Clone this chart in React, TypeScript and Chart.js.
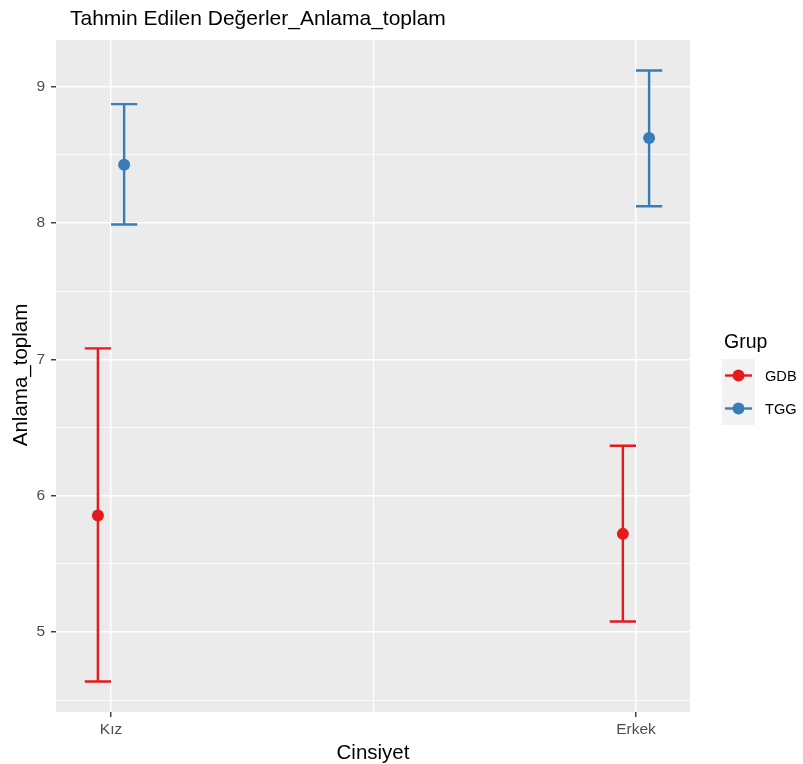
import React, { useEffect, useRef } from "react";
import { Chart, registerables } from "chart.js";

Chart.register(...registerables);

// ---- data ----
const categories = ["Kız", "Erkek"];
const groups = ["GDB", "TGG"];
const gdbMean = [5.854, 5.72];
const gdbLower = [4.638, 5.078];
const gdbUpper = [7.08, 6.366];
const tggMean = [8.427, 8.622];
const tggLower = [7.988, 8.122];
const tggUpper = [8.871, 9.117];
const yTicks = [4.5, 5, 5.5, 6, 6.5, 7, 7.5, 8, 8.5, 9];
const xTicks = [1, 1.5, 2];

const titleText = "Tahmin Edilen Değerler_Anlama_toplam";
const xTitle = "Cinsiyet";
const yTitle = "Anlama_toplam";
const legendTitle = "Grup";

const RED = "#E41A1C";
const BLUE = "#377EB8";
const FONT = '"Liberation Sans", Arial, Helvetica, sans-serif';
const DODGE = 0.05;
const ERR_W = 0.05;
const LW = 2.4;
const PR = 6;

const series = [
  { name: groups[0], color: RED, mean: gdbMean, lower: gdbLower, upper: gdbUpper, off: -DODGE / 2 },
  { name: groups[1], color: BLUE, mean: tggMean, lower: tggLower, upper: tggUpper, off: DODGE / 2 },
];

const bgPlugin = {
  id: "bgPanel",
  beforeDraw(chart: any) {
    const { ctx, chartArea: a } = chart;
    ctx.save();
    ctx.fillStyle = "#FFFFFF";
    ctx.fillRect(0, 0, chart.width, chart.height);
    ctx.fillStyle = "#EBEBEB";
    ctx.fillRect(a.left, a.top, a.right - a.left, a.bottom - a.top);
    ctx.restore();
  },
};

const errPlugin = {
  id: "errBars",
  beforeDatasetsDraw(chart: any) {
    const { ctx } = chart;
    const xs = chart.scales.x;
    const ys = chart.scales.y;
    ctx.save();
    ctx.lineWidth = LW;
    ctx.lineCap = "butt";
    series.forEach((s) => {
      ctx.strokeStyle = s.color;
      s.mean.forEach((_, i) => {
        const xv = i + 1 + s.off;
        const px = xs.getPixelForValue(xv);
        const l = xs.getPixelForValue(xv - ERR_W / 2);
        const r = xs.getPixelForValue(xv + ERR_W / 2);
        const yl = ys.getPixelForValue(s.lower[i]);
        const yu = ys.getPixelForValue(s.upper[i]);
        ctx.beginPath();
        ctx.moveTo(px, yl);
        ctx.lineTo(px, yu);
        ctx.moveTo(l, yl);
        ctx.lineTo(r, yl);
        ctx.moveTo(l, yu);
        ctx.lineTo(r, yu);
        ctx.stroke();
      });
    });
    ctx.restore();
  },
};

const textPlugin = {
  id: "texts",
  afterDraw(chart: any) {
    const { ctx, chartArea: a } = chart;
    ctx.save();
    ctx.fillStyle = "#000000";
    // title
    ctx.font = `21px ${FONT}`;
    ctx.textAlign = "left";
    ctx.textBaseline = "alphabetic";
    ctx.fillText(titleText, a.left + 14, 25);
    // x title
    ctx.font = `20.5px ${FONT}`;
    ctx.textAlign = "center";
    ctx.fillText(xTitle, (a.left + a.right) / 2, 759);
    // y title
    ctx.save();
    ctx.translate(27, (a.top + a.bottom) / 2 - 1);
    ctx.rotate(-Math.PI / 2);
    ctx.fillText(yTitle, 0, 0);
    ctx.restore();
    // legend
    const lx = a.right + 32;
    ctx.textAlign = "left";
    ctx.font = `19.5px ${FONT}`;
    ctx.fillText(legendTitle, lx + 2, 348);
    const keyTop = 359;
    const keyH = 33;
    const keyW = 33;
    ctx.fillStyle = "#F2F2F2";
    ctx.fillRect(lx, keyTop, keyW, keyH * series.length);
    series.forEach((s, i) => {
      const cy = keyTop + keyH * i + keyH / 2;
      ctx.strokeStyle = s.color;
      ctx.lineWidth = LW;
      ctx.beginPath();
      ctx.moveTo(lx + 3, cy);
      ctx.lineTo(lx + keyW - 3, cy);
      ctx.stroke();
      ctx.fillStyle = s.color;
      ctx.beginPath();
      ctx.arc(lx + keyW / 2, cy, PR, 0, Math.PI * 2);
      ctx.fill();
      ctx.fillStyle = "#000000";
      ctx.font = `14.6px ${FONT}`;
      ctx.textBaseline = "middle";
      ctx.fillText(s.name, lx + 43, cy + 1);
      ctx.textBaseline = "alphabetic";
    });
    ctx.restore();
  },
};

export default function App() {
  const ref = useRef<HTMLCanvasElement | null>(null);
  useEffect(() => {
    document.body.style.margin = "0";
    const canvas = ref.current;
    if (!canvas) return;
    const chart = new Chart(canvas, {
      type: "scatter",
      data: {
        datasets: series.map((s) => ({
          label: s.name,
          data: s.mean.map((m, i) => ({ x: i + 1 + s.off, y: m })),
          backgroundColor: s.color,
          borderColor: s.color,
          borderWidth: 0,
          pointRadius: PR,
          pointHoverRadius: PR,
        })),
      },
      plugins: [bgPlugin, errPlugin, textPlugin],
      options: {
        responsive: false,
        animation: false,
        devicePixelRatio: 1,
        layout: { padding: { left: 0, top: 40, right: 113, bottom: 0 } },
        plugins: { legend: { display: false }, tooltip: { enabled: false }, title: { display: false } },
        scales: {
          x: {
            type: "linear",
            min: 0.8952,
            max: 2.1029,
            afterBuildTicks: (scale: any) => {
              scale.ticks = xTicks.map((v) => ({ value: v }));
            },
            afterFit: (scale: any) => {
              scale.height = 52;
            },
            border: { display: false },
            grid: {
              color: "#FFFFFF",
              lineWidth: (c: any) => (c.tick && Number.isInteger(c.tick.value) ? 1.5 : 1.1),
              drawTicks: true,
              tickLength: 5,
              tickWidth: 1.4,
              tickColor: (c: any) => (c.tick && Number.isInteger(c.tick.value) ? "#333333" : "rgba(0,0,0,0)"),
            },
            ticks: {
              autoSkip: false,
              maxRotation: 0,
              padding: 3,
              color: "#4D4D4D",
              font: { family: FONT, size: 15.5 },
              callback: (v: any) => (v === 1 ? categories[0] : v === 2 ? categories[1] : ""),
            },
          },
          y: {
            type: "linear",
            min: 4.414,
            max: 9.341,
            afterBuildTicks: (scale: any) => {
              scale.ticks = yTicks.map((v) => ({ value: v }));
            },
            afterFit: (scale: any) => {
              scale.width = 56;
            },
            border: { display: false },
            grid: {
              color: "#FFFFFF",
              lineWidth: (c: any) => (c.tick && Number.isInteger(c.tick.value) ? 1.5 : 0.8),
              drawTicks: true,
              tickLength: 5,
              tickWidth: 1.4,
              tickColor: (c: any) => (c.tick && Number.isInteger(c.tick.value) ? "#333333" : "rgba(0,0,0,0)"),
            },
            ticks: {
              autoSkip: false,
              padding: 6,
              color: "#4D4D4D",
              font: { family: FONT, size: 15.5 },
              callback: (v: any) => (Number.isInteger(v) ? String(v) : ""),
            },
          },
        },
      },
    } as any);
    return () => chart.destroy();
  }, []);
  return (
    <div style={{ width: 803, height: 764 }}>
      <canvas ref={ref} width={803} height={764} style={{ width: 803, height: 764, display: "block" }} />
    </div>
  );
}
